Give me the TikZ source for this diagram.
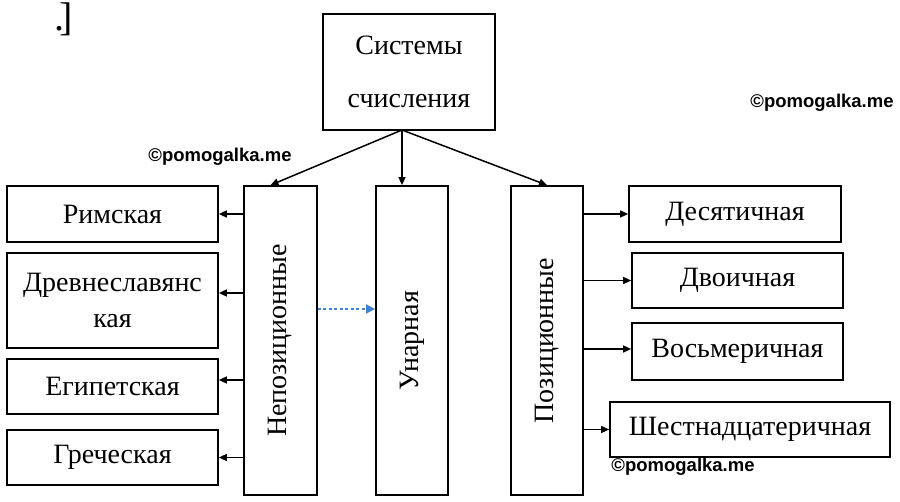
\documentclass[tikz,border=0pt]{standalone}
\usepackage{fontspec}
\setmainfont{Liberation Serif}
\newfontfamily\wmfont{Liberation Sans}
\usetikzlibrary{calc,arrows.meta}

\begin{document}
\begin{tikzpicture}[x=1pt,y=-1pt,
  box/.style={draw,line width=1.7pt,inner sep=0pt,align=center,
    font=\fontsize{28}{36}\selectfont},
  lbox/.style={box,minimum width=211pt},
  vbox/.style={box,minimum width=73pt,minimum height=309pt},
  vtext/.style={rotate=90,font=\fontsize{28}{34}\selectfont},
  arr/.style={line width=1.5pt,-{Triangle[length=8pt,width=7pt]}},
  dotarr/.style={line width=1.5pt,draw={rgb,255:red,60;green,130;blue,215},
    dash pattern=on 3pt off 2.5pt,-{Triangle[length=9pt,width=9pt]}},
  wm/.style={font=\wmfont\bfseries\fontsize{18.5}{20}\selectfont}]
  \fill[white] (0,0) rectangle (900,502);
  \useasboundingbox (0,0) rectangle (900,502);

  \node[font=\fontsize{40}{44}\selectfont] (brk) at (64,19) {.\kern-5pt]};

  % racine
  \node[box,minimum width=172pt,minimum height=116pt,
    font=\fontsize{28}{53}\selectfont] (sys) at (409,72) {Системы\\счисления};
  \coordinate (fork) at (402,130);

  % les trois colonnes
  \node[vbox] (nonpos) at (280.5,340.5) {};
  \node[vtext] (nonpost) at (nonpos) {Непозиционные};
  \node[vbox,minimum width=72pt] (unar) at (412,340.5) {};
  \node[vtext] (unart) at (unar) {Унарная};
  \node[vbox,minimum width=72pt] (pos) at (547,340.5) {};
  \node[vtext] (post) at (pos) {Позиционные};

  \draw[arr] (fork) -- ([xshift=-10pt]nonpos.north);
  \draw[arr] (fork) -- ([xshift=-10pt]unar.north);
  \draw[arr] (fork) -- (pos.north);

  % a gauche
  \node[lbox,minimum height=56pt] (rim) at (112.5,214) {Римская};
  \node[lbox,minimum height=95pt] (drev) at (112.5,300.5) {Древнеславянс\\кая};
  \node[lbox,minimum height=55pt] (egip) at (112.5,386.5) {Египетская};
  \node[lbox,minimum height=55pt] (grec) at (112.5,457.5) {Греческая};

  \draw[arr] (nonpos.west |- rim) -- (rim.east);
  \draw[arr] (nonpos.west |- 0,293) -- (drev.east |- 0,293);
  \draw[arr] (nonpos.west |- 0,380) -- (egip.east |- 0,380);
  \draw[arr] (nonpos.west |- grec) -- (grec.east);

  \draw[dotarr] (nonpos.east |- 0,309) -- (unar.west |- 0,309);

  % a droite
  \node[box,minimum width=212pt,minimum height=56pt] (dec) at (735,214) {Десятичная};
  \node[box,minimum width=211pt,minimum height=55pt] (dvo) at (737.5,280.5) {Двоичная};
  \node[box,minimum width=211pt,minimum height=57pt] (vos) at (737.5,351.5) {Восьмеричная};
  \node[box,minimum width=280pt,minimum height=55pt] (hex) at (750,429.5) {Шестнадцатеричная};

  \draw[arr] (pos.east |- dec) -- (dec.west);
  \draw[arr] (pos.east |- dvo) -- (dvo.west);
  \draw[arr] (pos.east |- 0,349) -- (vos.west |- 0,349);
  \draw[arr] (pos.east |- hex) -- (hex.west);

  \node[wm] (wma) at (220,157) {©pomogalka.me};
  \node[wm] (wmb) at (822,103) {©pomogalka.me};
  \node[wm] (wmc) at (683,467) {©pomogalka.me};
\end{tikzpicture}
\end{document}
